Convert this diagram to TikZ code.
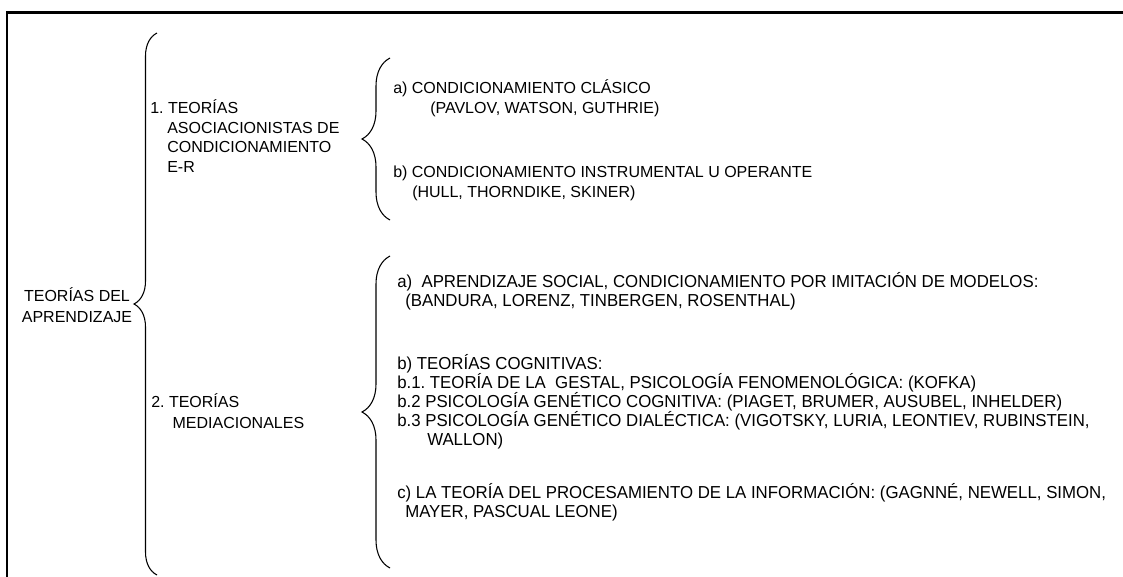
\documentclass[tikz,border=0pt]{standalone}
\usepackage{fontspec}
\setmainfont{Liberation Sans}
\newfontfamily\narrowsf[FakeStretch=0.97]{Liberation Sans}
\usetikzlibrary{decorations.pathreplacing}
\frenchspacing

\begin{document}
\begin{tikzpicture}[x=0.75pt, y=-0.75pt,
    txt/.style={anchor=base west, align=left, inner sep=0pt, font=\fontsize{12}{15}\selectfont},
    sub/.style={txt, font=\narrowsf\fontsize{13}{14.25}\selectfont},
    curly/.style={decorate, decoration={brace, amplitude=#1}, line width=0.8pt}]
    \useasboundingbox (0,0) rectangle (1123,576);
    % frame
    \draw[line width=1.8pt] (1123,12.5) -- (7,12.5) -- (7,577);

    \node[align=center, inner sep=0pt, font=\fontsize{12}{15.75}\selectfont] (root) at (77,305) {TEORÍAS DEL\\APRENDIZAJE};

    \node[txt, font=\fontsize{12}{14.8}\selectfont] (asoc) at (150,172.7) {1. TEORÍAS\\\hspace*{12.75pt}ASOCIACIONISTAS DE\\\hspace*{12.75pt}CONDICIONAMIENTO\\\hspace*{12.75pt}E-R};
    \node[txt, font=\fontsize{12}{15.75}\selectfont] (medi) at (151,428.7) {2. TEORÍAS\\\hspace*{16pt}MEDIACIONALES};

    \node[txt] (clasico) at (393,113.7) {a) CONDICIONAMIENTO CLÁSICO\\\hspace*{27.75pt}(PAVLOV, WATSON, GUTHRIE)};
    \node[txt] (operante) at (393,197.7) {b) CONDICIONAMIENTO INSTRUMENTAL U OPERANTE\\\hspace*{14.25pt}(HULL, THORNDIKE, SKINER)};

    \node[sub] (social) at (397,306.2) {a)\ \ APRENDIZAJE SOCIAL, CONDICIONAMIENTO POR IMITACIÓN DE MODELOS:\\\hspace*{6pt}(BANDURA, LORENZ, TINBERGEN, ROSENTHAL)};
    \node[sub] (cogn) at (397,445.2) {b) TEORÍAS COGNITIVAS:\\b.1. TEORÍA DE LA\ \ GESTAL, PSICOLOGÍA FENOMENOLÓGICA: (KOFKA)\\b.2 PSICOLOGÍA GENÉTICO COGNITIVA: (PIAGET, BRUMER, AUSUBEL, INHELDER)\\b.3 PSICOLOGÍA GENÉTICO DIALÉCTICA: (VIGOTSKY, LURIA, LEONTIEV, RUBINSTEIN,\\\hspace*{22.5pt}WALLON)};
    \node[sub] (info) at (397,517.2) {c) LA TEORÍA DEL PROCESAMIENTO DE LA INFORMACIÓN: (GAGNNÉ, NEWELL, SIMON,\\\hspace*{6pt}MAYER, PASCUAL LEONE)};

    % braces
    \coordinate (r1) at (157,33);
    \coordinate (r2) at (157,575);
    \coordinate (u1) at (390,58);
    \coordinate (u2) at (390,220);
    \coordinate (m1) at (390,256);
    \coordinate (m2) at (390,568);
    \draw[curly=17.25pt] (r2) -- (r1);
    \draw[curly=21pt] (u2) -- (u1);
    \draw[curly=21pt] (m2) -- (m1);
\end{tikzpicture}
\end{document}
